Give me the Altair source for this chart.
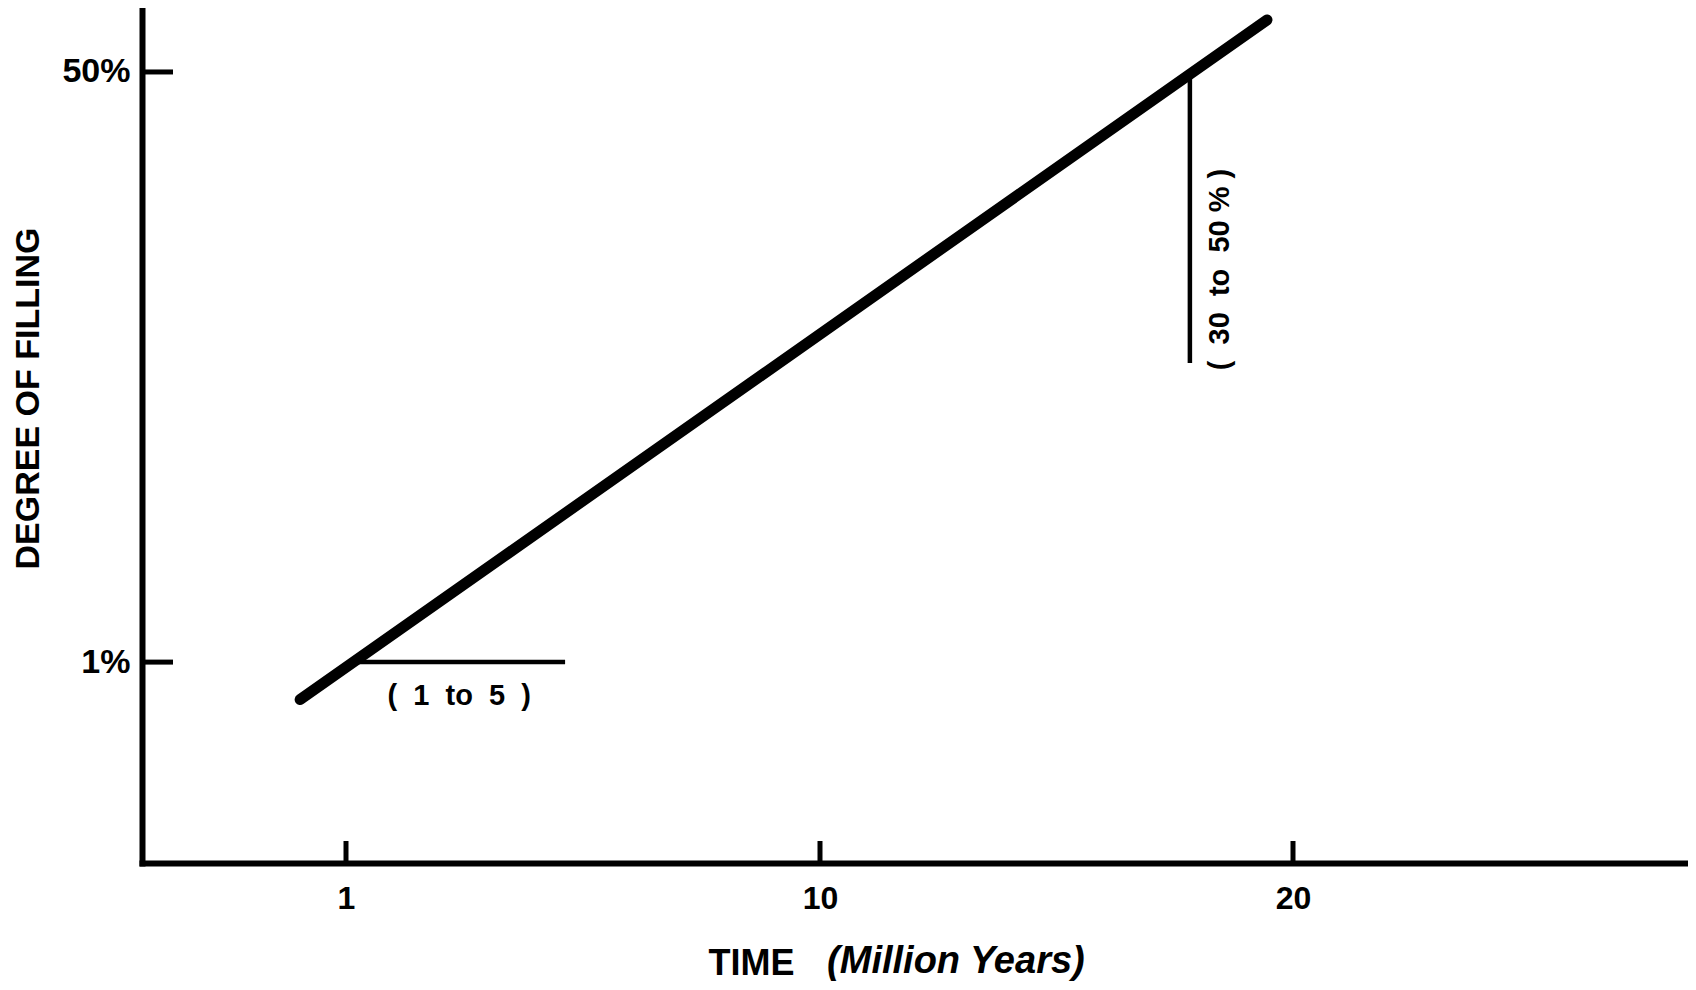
import altair as alt
import pandas as pd

# ---- values ----
line_time = [0.13, 19.45]          # million years
line_fill = [0.78, 70.6]           # degree of filling, %
x_tick_values = [1, 10, 20]
y_tick_values = [1, 50]
run_time = [1.15, 5.16]            # horizontal leg "( 1 to 5 )"
run_fill = [1, 1]
rise_time = [17.82, 17.82]         # vertical leg "( 30 to 50% )"
rise_fill = [50, 7.26]
NB = "\u00a0"
label_text = ["(" + NB + " 1" + NB + " to" + NB + " 5" + NB + " )",
              "(" + NB + " 30" + NB + " to" + NB + " 50" + NB + "% )"]
label_time = [3.15, 18.46]
label_fill = [0.80, 13.5]
label_angle = [0, 270]

FONT = "Liberation Sans"
W, H = 1546, 853

line_df = pd.DataFrame({"time": line_time, "fill": line_fill})
run_df = pd.DataFrame({"t0": [run_time[0]], "t1": [run_time[1]], "fill": [run_fill[0]]})
rise_df = pd.DataFrame({"time": [rise_time[0]], "f0": [rise_fill[0]], "f1": [rise_fill[1]]})
xt_df = pd.DataFrame({"time": x_tick_values})
yt_df = pd.DataFrame({"fill": y_tick_values})
lab_df = pd.DataFrame({"text": label_text, "time": label_time, "fill": label_fill, "angle": label_angle})
unit_df = pd.DataFrame({"time": [10.15], "text": ["(Million Years)"]})

xs = alt.Scale(domain=[-2.87, 1, 10, 20, 28.35], range=[0, 204, 678, 1151, W], nice=False, zero=False)
ys = alt.Scale(type="log", domain=[0.264, 75.4], nice=False)

x_axis = alt.Axis(values=x_tick_values, format="d", title="TIME", titleX=566, titleY=100,
                  titleAlign="left", titleBaseline="middle", titleFont=FONT, titleFontSize=36,
                  titleFontWeight="bold", titleColor="black", labelFont=FONT, labelFontSize=32,
                  labelFontWeight="bold", labelColor="black", labelPadding=35, labelBaseline="middle",
                  ticks=False, tickSize=0, grid=False, domainColor="black", domainWidth=6,
                  domainCap="square", labelFlush=False)
y_axis = alt.Axis(values=y_tick_values, labelExpr="datum.value + '%'", title="DEGREE OF FILLING",
                  titleX=-114, titleY=388, titleAngle=270, titleAlign="center", titleBaseline="middle",
                  titleFont=FONT, titleFontSize=34, titleFontWeight="bold", titleColor="black",
                  labelFont=FONT, labelFontSize=34, labelFontWeight="bold", labelColor="black",
                  labelPadding=12, labelBaseline="middle", ticks=False, tickSize=0, grid=False,
                  domainColor="black", domainWidth=6, domainCap="square")

main = alt.Chart(line_df).mark_line(color="black", strokeWidth=11, strokeCap="round").encode(
    x=alt.X("time:Q", scale=xs, axis=x_axis),
    y=alt.Y("fill:Q", scale=ys, axis=y_axis),
)

run = alt.Chart(run_df).mark_rule(color="black", strokeWidth=4.5).encode(
    x=alt.X("t0:Q", scale=xs), x2="t1:Q",
    y=alt.Y("fill:Q", scale=ys),
)
rise = alt.Chart(rise_df).mark_rule(color="black", strokeWidth=4.5).encode(
    x=alt.X("time:Q", scale=xs),
    y=alt.Y("f0:Q", scale=ys), y2="f1:Q",
)
xticks = alt.Chart(xt_df).mark_rule(color="black", strokeWidth=5).encode(
    x=alt.X("time:Q", scale=xs),
    y=alt.value(H), y2=alt.value(H - 22),
)
yticks = alt.Chart(yt_df).mark_rule(color="black", strokeWidth=5).encode(
    y=alt.Y("fill:Q", scale=ys),
    x=alt.value(0), x2=alt.value(31),
)
labels = alt.Chart(lab_df).mark_text(font=FONT, fontSize=29, fontWeight="bold", color="black",
                                     align="center", baseline="middle").encode(
    x=alt.X("time:Q", scale=xs),
    y=alt.Y("fill:Q", scale=ys),
    text="text:N",
    angle=alt.Angle("angle:Q", scale=None),
)
units = alt.Chart(unit_df).mark_text(font=FONT, fontSize=38, fontWeight="bold", fontStyle="italic",
                                     color="black", align="left", baseline="middle").encode(
    x=alt.X("time:Q", scale=xs),
    y=alt.value(952),
    text="text:N",
)

chart = alt.layer(main, run, rise, xticks, yticks, labels, units).properties(
    width=W, height=H,
    autosize=alt.AutoSizeParams(type="none"),
    padding={"left": 134, "top": 2, "right": 0, "bottom": 119},
    background="white",
).configure_view(stroke=None)

chart.save("out.html", embed_options={"renderer": "svg", "actions": False})
